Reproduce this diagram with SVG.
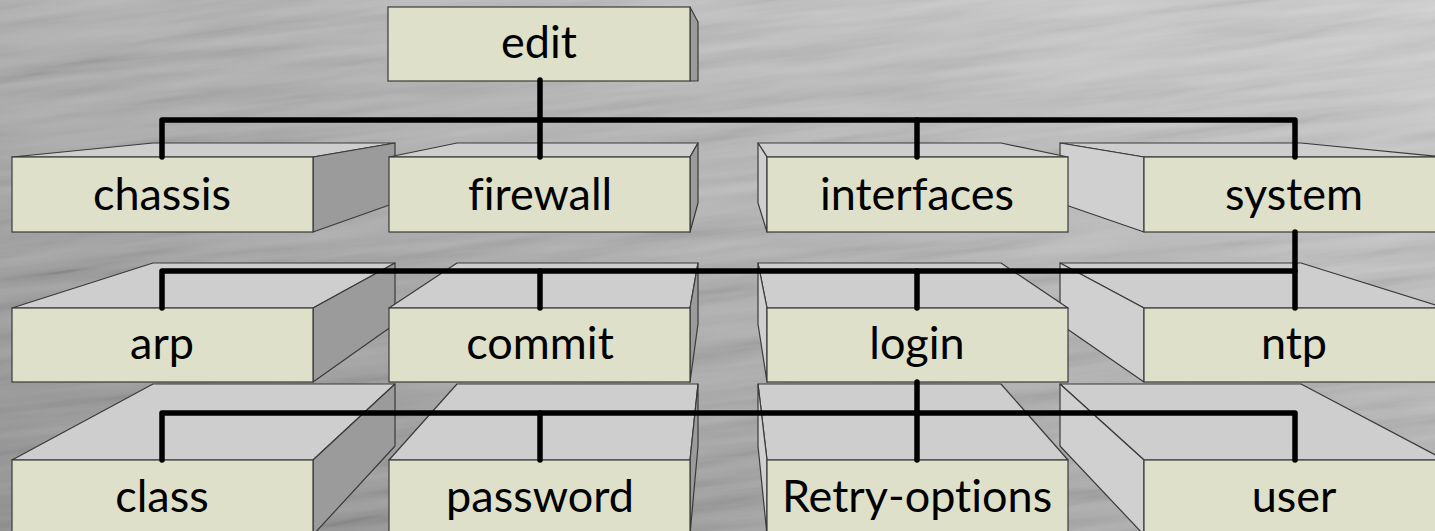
<svg xmlns="http://www.w3.org/2000/svg" width="1435" height="531" viewBox="0 0 1435 531">
<defs>
<linearGradient id="bg" x1="0" y1="1" x2="1" y2="0">
<stop offset="0" stop-color="#8d8d8d"/>
<stop offset="0.45" stop-color="#aaaaaa"/>
<stop offset="1" stop-color="#d0d0d0"/>
</linearGradient>
<filter id="brush" x="0" y="0" width="1" height="1">
<feTurbulence type="fractalNoise" baseFrequency="0.005 0.07" numOctaves="4" seed="7" result="n"/>
<feColorMatrix in="n" type="matrix" values="1.3 0 0 0 -0.15  1.3 0 0 0 -0.15  1.3 0 0 0 -0.15  0 0 0 0 0.14"/>
</filter>
<style>
.front{fill:#dee0ca;stroke:#3a3a3a;stroke-width:1.2}
.top{fill:#cecece;stroke:#3a3a3a;stroke-width:1.2;stroke-linejoin:round}
.sideR{fill:#9b9b9b;stroke:#3a3a3a;stroke-width:1.2;stroke-linejoin:round}
.sideL{fill:#d0d0d0;stroke:#3a3a3a;stroke-width:1.2;stroke-linejoin:round}
.lbl{font-family:Lato,"Liberation Sans",sans-serif;font-size:45px;fill:#000;text-anchor:middle;font-variant-ligatures:none}
.con{fill:none;stroke:#000;stroke-width:5.5;stroke-linecap:round;stroke-linejoin:round}
</style>
</defs>
<rect width="1435" height="531" fill="url(#bg)"/>
<g transform="rotate(-7 717 265)"><rect x="-100" y="-150" width="1635" height="831" filter="url(#brush)"/></g>

<g id="edit">
<polygon class="sideR" points="690,7 698,22 698,81 690,81"/>
<rect class="front" x="388" y="7" width="302" height="74"/>
<text class="lbl" x="539" y="58">edit</text>
</g>

<g id="chassis">
<polygon class="top" points="12,157 153,143 395,143 313,157"/>
<polygon class="sideR" points="313,157 395,143 395,203 313,232"/>
<rect class="front" x="12" y="157" width="301" height="75"/>
<text class="lbl" x="162" y="210">chassis</text>
</g>
<g id="firewall">
<polygon class="top" points="389,157 457,143 698,143 690,157"/>
<polygon class="sideR" points="690,157 698,143 698,203 690,232"/>
<rect class="front" x="389" y="157" width="301" height="75"/>
<text class="lbl" x="540" y="210">firewall</text>
</g>
<g id="system">
<polygon class="top" points="1060,143 1301,143 1445,157 1144,157"/>
<polygon class="sideL" points="1060,143 1144,157 1144,232 1060,203"/>
<rect class="front" x="1144" y="157" width="301" height="75"/>
<text class="lbl" x="1294" y="210">system</text>
</g>
<g id="interfaces">
<polygon class="top" points="758,143 1001,143 1068,157 767,157"/>
<polygon class="sideL" points="758,143 767,157 767,232 758,203"/>
<rect class="front" x="767" y="157" width="301" height="75"/>
<text class="lbl" x="917" y="210">interfaces</text>
</g>

<g id="arp">
<polygon class="top" points="12,308 153,263 395,263 313,308"/>
<polygon class="sideR" points="313,308 395,263 395,324 313,382"/>
<rect class="front" x="12" y="308" width="301" height="74"/>
<text class="lbl" x="162" y="359">arp</text>
</g>
<g id="commit">
<polygon class="top" points="389,308 457,263 698,263 690,308"/>
<polygon class="sideR" points="690,308 698,263 698,324 690,382"/>
<rect class="front" x="389" y="308" width="301" height="74"/>
<text class="lbl" x="540" y="359">commit</text>
</g>
<g id="ntp">
<polygon class="top" points="1060,263 1301,263 1445,308 1144,308"/>
<polygon class="sideL" points="1060,263 1144,308 1144,382 1060,324"/>
<rect class="front" x="1144" y="308" width="301" height="74"/>
<text class="lbl" x="1294" y="359">ntp</text>
</g>
<g id="login">
<polygon class="top" points="758,263 1001,263 1068,308 767,308"/>
<polygon class="sideL" points="758,263 767,308 767,382 758,324"/>
<rect class="front" x="767" y="308" width="301" height="74"/>
<text class="lbl" x="917" y="359">login</text>
</g>

<g id="class">
<polygon class="top" points="12,460 153,384 395,384 313,460"/>
<polygon class="sideR" points="313,460 395,384 395,446 313,535"/>
<rect class="front" x="12" y="460" width="301" height="75"/>
<text class="lbl" x="162" y="512">class</text>
</g>
<g id="password">
<polygon class="top" points="389,460 457,384 698,384 690,460"/>
<polygon class="sideR" points="690,460 698,384 698,446 690,535"/>
<rect class="front" x="389" y="460" width="301" height="75"/>
<text class="lbl" x="540" y="512">password</text>
</g>
<g id="user">
<polygon class="top" points="1060,384 1301,384 1445,460 1144,460"/>
<polygon class="sideL" points="1060,384 1144,460 1144,535 1060,446"/>
<rect class="front" x="1144" y="460" width="301" height="75"/>
<text class="lbl" x="1294" y="512">user</text>
</g>
<g id="retry-options">
<polygon class="top" points="758,384 1001,384 1068,460 767,460"/>
<polygon class="sideL" points="758,384 767,460 767,535 758,446"/>
<rect class="front" x="767" y="460" width="301" height="75"/>
<text class="lbl" x="917" y="512">Retry-options</text>
</g>

<g id="connectors">
<path class="con" d="M540,80 V157"/>
<path class="con" d="M162,157 V120 H1295 V157"/>
<path class="con" d="M917,120 V157"/>
<path class="con" d="M1295,232 V308"/>
<path class="con" d="M162,308 V271 H1295"/>
<path class="con" d="M540,271 V308"/>
<path class="con" d="M917,271 V308"/>
<path class="con" d="M917,382 V460"/>
<path class="con" d="M162,460 V413 H1295 V460"/>
<path class="con" d="M540,413 V460"/>
</g>
</svg>
